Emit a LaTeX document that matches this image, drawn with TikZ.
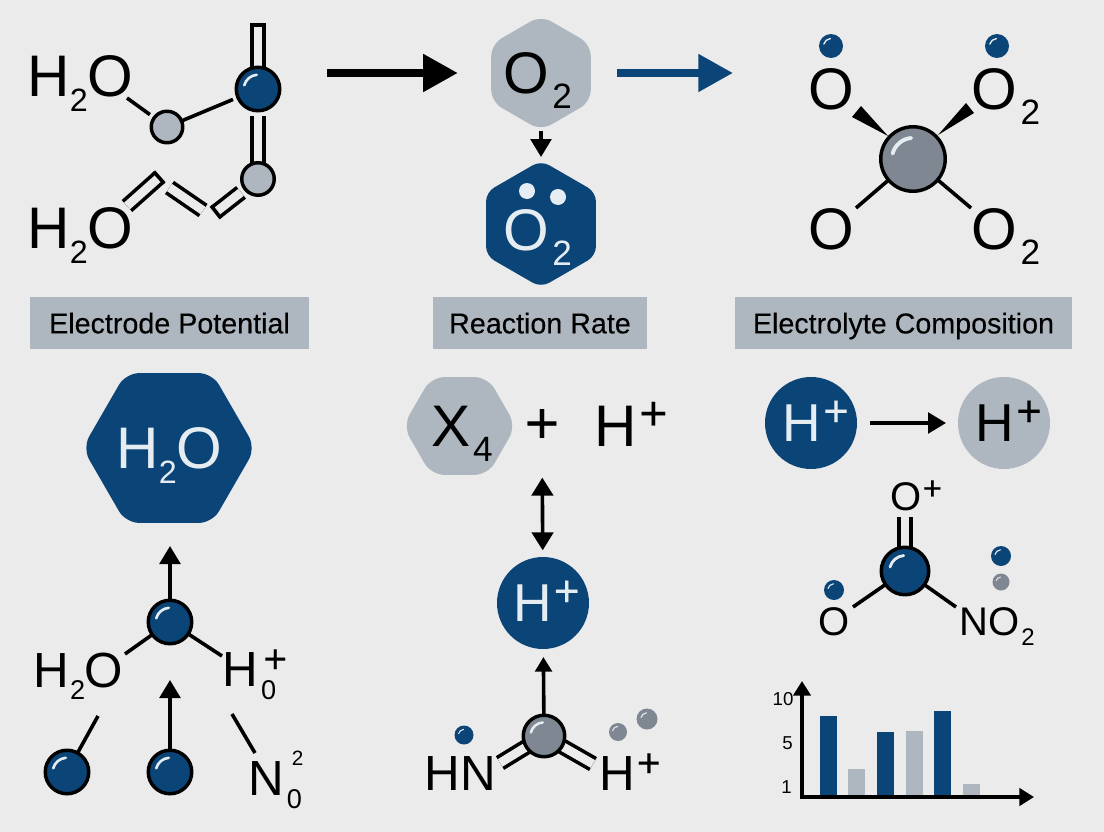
\documentclass[tikz,border=0pt]{standalone}
\usepackage{fontspec}
\setmainfont{Liberation Sans}
\newfontfamily\platefont[FakeBold=0.25]{Liberation Sans}
\usetikzlibrary{calc, arrows.meta, shapes.geometric, backgrounds}
\definecolor{paper}{HTML}{EBEBEC}
\definecolor{navy}{HTML}{0B4477}
\definecolor{steel}{HTML}{AEB7BF}
\definecolor{slate}{HTML}{7F8892}
\definecolor{pale}{HTML}{E6EDF2}
\newcommand{\lowidx}[2][0.6]{\raisebox{-.25em}[0pt][0pt]{\kern.05em\scalebox{#1}{#2}}}
\newcommand{\highidx}[2][0.82]{\kern.04em\raisebox{.29em}[0pt][0pt]{\scalebox{#1}{\platefont#2}}}
\newcommand{\water}{H\kern-.04em\lowidx[.55]{2}\kern-.01em O}
\newcommand{\dcap}[2]{\draw[bond, line cap=butt] ($(#2)!6pt!90:(#1)$) -- ($(#2)!6pt!-90:(#1)$);}
\tikzset{
    chem/.style={inner sep=0pt, outer sep=0pt, text depth=0pt, font=\fontsize{#1}{#1}\selectfont},
    chem/.default=44,
    ball/.style={circle, draw=black, line width=2.6pt, inner sep=0pt, outer sep=0pt, minimum size=(#1-3.5)*.75pt},
    dot/.style={circle, inner sep=0pt, outer sep=0pt, minimum size=#1*.75pt},
    hexup/.style={regular polygon, regular polygon sides=6, shape border rotate=30, inner sep=0pt, outer sep=0pt, rounded corners=7pt, minimum size=#1*.75pt},
    hexflat/.style={regular polygon, regular polygon sides=6, inner sep=0pt, outer sep=0pt, rounded corners=10pt, minimum size=#1*.75pt},
    plate/.style={fill=steel, inner sep=0pt, outer sep=0pt, minimum height=39pt, text depth=0pt, font=\platefont\fontsize{21.5}{21.5}\selectfont},
    bond/.style={line width=2.7pt, draw=black},
    dbond/.style={bond, double=paper, double distance=6.6pt},
    flow/.style={line width=2.7pt, -{Triangle[length=13.5pt, width=15.5pt]}},
    glint/.style={draw=pale, line cap=round},
}
\begin{document}
\begin{tikzpicture}[x=.75pt, y=-.75pt]
    \useasboundingbox (0,0) rectangle (1104,832);

    \node[ball=47, fill=navy] (balla) at (258,89) {};
    \node[ball=35, fill=steel] (greya) at (167,127) {};
    \node[ball=36, fill=steel] (greyb) at (258,179) {};
    \node[chem] (wata) at (80,76) {\water};
    \node[chem] (watb) at (80,228) {\water};
    \coordinate (wat1) at (127,98);
    \coordinate (rod) at (258,25);
    \coordinate (ch1) at (127,206);
    \coordinate (ch2) at (159,177.5);
    \coordinate (ch3) at (169.5,187.5);
    \coordinate (ch4) at (203,210.5);
    \coordinate (ch5) at (216,212);

    \node[hexup=115, fill=steel, rounded corners=9pt] (hexa) at (541,73) {};
    \node[chem] (oxa) at (538,73) {O\lowidx{2}};
    \node[hexup=127, fill=navy] (hexb) at (541,224) {};
    \node[chem, text=pale] (oxb) at (538,230) {O\lowidx{2}};
    \node[dot=16, fill=pale] (dota) at (527,191) {};
    \node[dot=16, fill=pale] (dotb) at (558,197) {};
    \coordinate (fa) at (327,73);
    \coordinate (fb) at (733,73);

    \node[ball=68, fill=slate] (ballc) at (913,159) {};
    \node[chem] (oa) at (831,89) {O};
    \node[chem] (ob) at (1006,89) {O\lowidx{2}};
    \node[chem] (oc) at (831,229) {O};
    \node[chem] (od) at (1006,229) {O\lowidx{2}};
    \node[dot=24, fill=navy] (sa) at (831,46) {};
    \node[dot=24, fill=navy] (sb) at (997,46) {};
    \coordinate (bc) at (856,208);
    \coordinate (bd) at (971,208);

    \node[plate, minimum width=279*.75pt] (laba) at (169.5,323) {Electrode Potential};
    \node[plate, minimum width=214*.75pt] (labb) at (540,323) {Reaction Rate};
    \node[plate, minimum width=337*.75pt] (labc) at (903.5,323) {Electrolyte Composition};

    \node[hexflat=170, fill=navy, text=pale, font=\fontsize{44}{44}\selectfont, text depth=0pt] (hexc) at (169,448) {\water};
    \node[ball=47, fill=navy] (ballt) at (170,622) {};
    \node[ball=47, fill=navy] (balll) at (67,772) {};
    \node[ball=47, fill=navy] (ballm) at (170,772) {};
    \node[chem=37] (watc) at (78.5,670) {\water};
    \node[chem=37] (hzero) at (255,670) {H\rlap{\lowidx[.55]{0}}\kern.06em\highidx{+}};
    \node[chem=37] (nzero) at (276,779) {N\rlap{\lowidx[.55]{0}}\kern.15em\raisebox{.62em}[0pt][0pt]{\scalebox{.42}{2}}};
    \coordinate (up) at (170,546);
    \coordinate (mid) at (170,680);
    \coordinate (wl) at (125,654);
    \coordinate (wr) at (222,656);
    \coordinate (bl) at (98,716);
    \coordinate (na) at (232,714);
    \coordinate (nb) at (255,753);

    \node[hexflat=113, fill=steel] (hexd) at (459.5,426) {};
    \node[chem] (xfour) at (462,426.5) {X\lowidx{4}};
    \node[chem] (plus) at (542,426) {\platefont+};
    \node[chem] (hpa) at (631,426.5) {H\highidx{+}};
    \node[dot=92, fill=navy, text=pale, chem=40] (hcirc) at (543,603) {\kern5pt H\highidx{+}};
    \node[ball=45, fill=slate] (balln) at (544,736) {};
    \node[chem=37] (hn) at (460.5,774) {HN};
    \node[chem=37] (hpb) at (630,774) {H\highidx{+}};
    \node[dot=19, fill=navy] (se) at (464,735) {};
    \node[dot=18, fill=slate] (sf) at (618,732) {};
    \node[dot=21, fill=slate] (sg) at (647,719) {};
    \coordinate (dl) at (500,763);
    \coordinate (dr) at (593,764);

    \node[dot=92, fill=navy, text=pale, chem=40] (hcirl) at (811,423) {\kern7pt H\highidx{+}};
    \node[dot=92, fill=steel, chem=40] (hcirr) at (1004,423) {\kern7pt H\highidx{+}};
    \node[ball=51, fill=navy] (ballo) at (905,571) {};
    \node[chem=30] (op) at (916,497) {O\highidx{+}};
    \node[chem=30] (oe) at (834,622) {O};
    \node[chem=30] (nox) at (997,622) {NO\lowidx{2}};
    \node[dot=20, fill=navy] (sc) at (834,590) {};
    \node[dot=20, fill=navy] (sd) at (1001,556) {};
    \node[dot=17, fill=slate] (sh) at (1001,582) {};
    \coordinate (oa1) at (905,517);
    \coordinate (ol) at (853,607);
    \coordinate (or) at (956,607);

    \coordinate (ax0) at (802,797);
    \coordinate (axy) at (802,681);
    \coordinate (axx) at (1034,797);
    \foreach \x/\t/\c in {820/716/navy, 848/769/steel, 877/732/navy, 906/731/steel, 934/711/navy, 963/784/steel}
        \fill[\c] (\x,\t) rectangle (\x+17,797);
    \draw[line width=2.6pt, {Triangle[length=11pt, width=13pt]}-{Triangle[length=11pt, width=13pt]}] (axy) -- (ax0) -- (axx);
    \node[chem=14] (tick10) at (783,698.5) {10};
    \node[chem=14] (tick5) at (787.5,743) {5};
    \node[chem=14] (tick1) at (786.5,787.5) {1};

    \foreach \b/\r in {balla/23, ballc/34, ballt/23, balll/23, ballm/23, balln/22, ballo/25, sa/12, sb/12, sc/10, sd/10, se/9, sf/9, sg/10, sh/8}
        \draw[glint, line width=\r*.085pt] (\b.center) ++(195:.62*\r) arc (195:265:.62*\r);

    \begin{scope}[on background layer]
        \fill[paper] (0,0) rectangle (1104,832);
        \draw[bond, shorten >=4pt] (wat1) -- (greya);
        \draw[bond, shorten >=4pt] (greya) -- (balla);
        \draw[dbond, shorten <=4pt] (balla) -- (greyb.center);
        \draw[dbond] (balla.center) -- (rod);
        \dcap{balla}{rod}
        \draw[dbond] (ch1) -- (ch2);
        \dcap{ch1}{ch2}
        \draw[dbond] (ch3) -- (ch4);
        \draw[dbond, shorten <=4pt] (greyb) -- (ch5);
        \dcap{greyb}{ch5}

        \draw[line width=6pt, -{Triangle[length=26pt, width=27pt]}, shorten >=25pt] (fa) -- (hexa);
        \draw[line width=6pt, navy, -{Triangle[length=26pt, width=27pt]}, shorten <=20pt] (hexa) -- (fb);
        \draw[flow, shorten >=2.6pt] (hexa) -- (hexb);

        \fill (888,136) -- (852,117) -- (861,106) -- cycle;
        \fill (938,135) -- (966,103) -- (974,113) -- cycle;
        \draw[bond] (bc) -- (ballc);
        \draw[bond] (bd) -- (ballc);

        \draw[flow] (ballt) -- (up);
        \draw[flow] (ballm) -- (mid);
        \draw[bond] (wl) -- (ballt);
        \draw[bond] (wr) -- (ballt);
        \draw[bond] (bl) -- (balll);
        \draw[bond] (na) -- (nb);

        \draw[flow, {Triangle[length=13.5pt, width=16pt]}-{Triangle[length=13.5pt, width=16pt]}, shorten <=26pt, shorten >=5pt] (plus) -- (hcirc);
        \draw[flow, -{Triangle[length=11pt, width=12.5pt]}, shorten >=6pt] (balln) -- (hcirc);
        \draw[dbond] (dl) -- (balln.center);
        \draw[dbond] (dr) -- (balln.center);

        \draw[flow, shorten <=10pt, shorten >=9pt] (hcirl) -- (hcirr);
        \draw[dbond] (oa1) -- (ballo.center);
        \draw[bond] (ol) -- (ballo);
        \draw[bond] (or) -- (ballo);
    \end{scope}
\end{tikzpicture}
\end{document}
